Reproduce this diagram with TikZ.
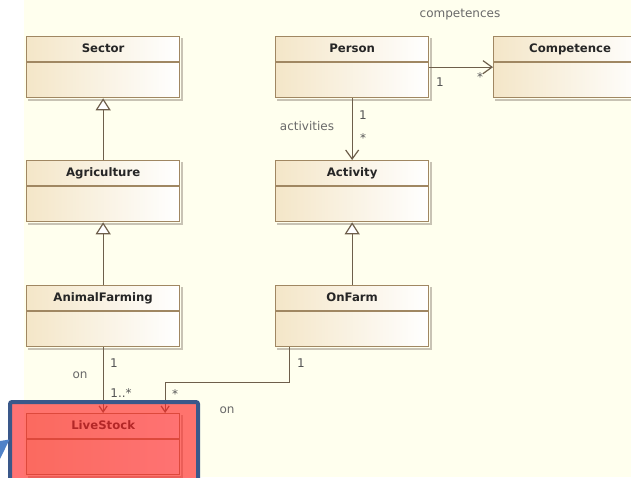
\documentclass[tikz,border=0pt]{standalone}
\usepackage{fontspec}
\setmainfont{DejaVu Sans}
\usetikzlibrary{arrows.meta}
\definecolor{cream}{RGB}{255,255,238}
\definecolor{tanfill}{RGB}{244,230,200}
\definecolor{clsborder}{RGB}{160,135,98}
\definecolor{clsshadow}{RGB}{200,195,180}
\definecolor{connc}{RGB}{110,95,75}
\definecolor{lbl}{RGB}{85,85,85}
\definecolor{rolec}{RGB}{105,105,105}
\definecolor{hlred}{RGB}{255,40,40}
\definecolor{hlblue}{RGB}{58,88,138}
\definecolor{callout}{RGB}{80,130,200}
\tikzset{
 cls/.style={draw=clsborder, line width=1.3pt, left color=tanfill, right color=white, minimum width=153pt, minimum height=61pt, inner sep=0pt, anchor=north west},
 clsline/.style={draw=clsborder, line width=1.3pt},
 clsshade/.style={draw=clsshadow, line width=1.5pt},
 clstitle/.style={font=\bfseries\fontsize{11.7}{14}\selectfont, text=black!85, inner sep=0pt, text height=8.6pt, text depth=2.4pt},
 connline/.style={draw=connc, line width=1.2pt},
 gen/.style={connline, -{Triangle[length=12pt,width=15pt,fill=white]}},
 nav/.style={connline, -{Straight Barb[length=9pt,width=13pt]}},
 navs/.style={connline, -{Straight Barb[length=6pt,width=8pt]}},
 mult/.style={font=\fontsize{12}{14}\selectfont, text=lbl, inner sep=0pt},
 rolelbl/.style={font=\fontsize{12}{14}\selectfont, text=rolec, inner sep=0pt},
}
\newcommand\umlclass[4]{%
 \node[cls] (#1) at (#2,#3) {};
 \draw[clsshade] ([shift={(2pt,-1.6pt)}]#1.south west) -- ([shift={(1.6pt,-1.6pt)}]#1.south east) -- ([shift={(1.6pt,-2pt)}]#1.north east);
 \draw[clsline] ([yshift=-26pt]#1.north west) -- ([yshift=-26pt]#1.north east);
 \node[clstitle] (#1-title) at ([yshift=-13pt]#1.north) {#4};
}
\begin{document}
\begin{tikzpicture}[x=1pt,y=-1pt]
\useasboundingbox (0,0) rectangle (631,477);
\clip (0,0) rectangle (631,477);
\fill[white] (0,0) rectangle (631,477);
\fill[cream] (24,0) rectangle (631,477);
% classes
\umlclass{sector}{26}{36}{Sector}
\umlclass{agri}{26}{160}{Agriculture}
\umlclass{animal}{26}{285}{AnimalFarming}
\umlclass{live}{26}{413}{LiveStock}
\umlclass{person}{275}{36}{Person}
\umlclass{activity}{275}{160}{Activity}
\umlclass{onfarm}{275}{285}{OnFarm}
\umlclass{comp}{493}{36}{Competence}
% connectors
\draw[gen] (agri) -- (sector);
\draw[gen] (animal) -- (agri);
\draw[gen] (onfarm) -- (activity);
\draw[nav] (person) -- (comp);
\draw[nav] (person) -- (activity);
\draw[navs] (animal) -- (live);
\draw[navs] ([xshift=-62.5pt]onfarm.south) -- ++(0,35) -| ([xshift=62pt]live.north);
% labels
\node[rolelbl] (lcomp) at (460,15) {competences};
\node[mult] (lcomp1) at (440,82) {1};
\node[mult] (lcomps) at (480,77) {*};
\node[rolelbl] (lact) at (307,126) {activities};
\node[mult] (lact1) at (363,115) {1};
\node[mult] (lacts) at (363,138) {*};
\node[mult] (lan1) at (114,363) {1};
\node[rolelbl] (lanon) at (80,375) {on};
\node[mult] (lanm) at (121,393) {1..*};
\node[mult] (lof1) at (301,363) {1};
\node[mult] (lofs) at (175,394) {*};
\node[rolelbl] (lofon) at (227,410) {on};
% highlight overlay
\draw[draw=hlblue, line width=4pt, fill=hlred, fill opacity=0.65, rounded corners=2pt] (10,402) rectangle (198,495);
\fill[callout] (0,441) -- (9.5,439.5) -- (0,459) -- cycle;
\end{tikzpicture}
\end{document}
